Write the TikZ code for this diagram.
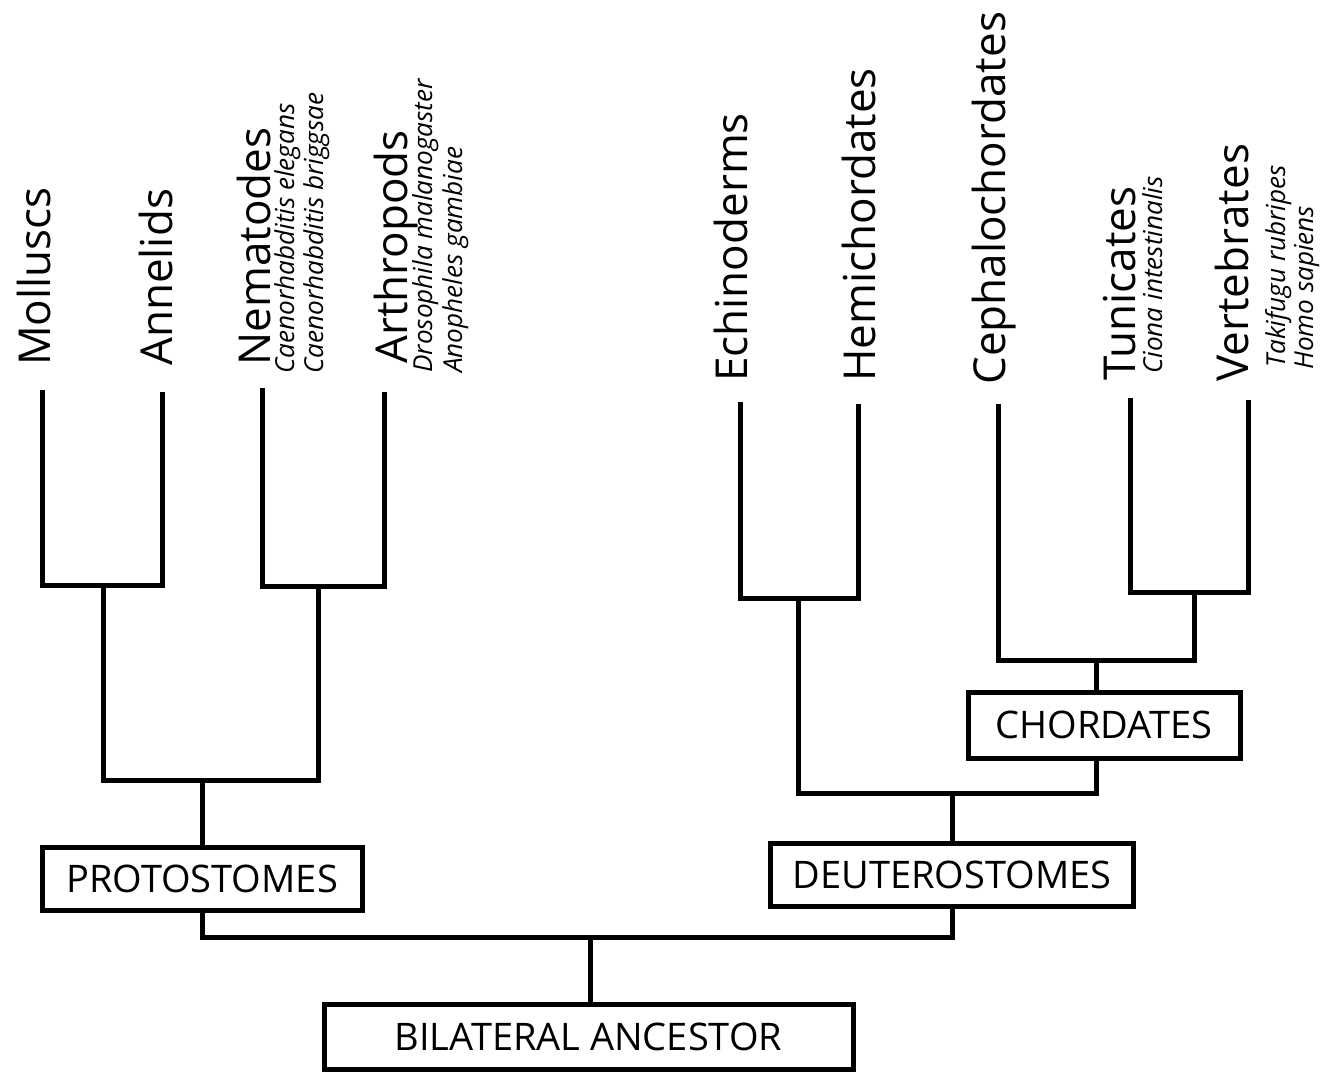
\documentclass[tikz,border=0pt]{standalone}
\usepackage{fontspec}
\setmainfont{Open Sans}
\begin{document}
\begin{tikzpicture}[x=0.75pt,y=-0.75pt,
  branch/.style={line width=3.75pt,line join=miter,line cap=butt},
  taxon/.style={rotate=90,anchor=base west,inner sep=0pt,font=\fontsize{33}{39}\selectfont},
  species/.style={rotate=90,anchor=base west,inner sep=0pt,font=\fontsize{19.6}{23}\selectfont\itshape},
  clade/.style={draw,line width=3.75pt,inner sep=0pt,font=\fontsize{28.5}{33}\selectfont}]
\useasboundingbox (0,0) rectangle (1320,1072);

% leaf labels
\node[taxon] (Lmol) at (50,366) {Molluscs};
\node[taxon] (Lann) at (172,366) {Annelids};
\node[taxon] (Lnem) at (270,366) {Nematodes};
\node[species] (Lce) at (294,374) {Caenorhabditis elegans};
\node[species] (Lcb) at (323,374) {Caenorhabditis briggsae};
\node[taxon] (Lart) at (407,364) {Arthropods};
\node[species] (Ldm) at (432,373) {Drosophila malanogaster};
\node[species] (Lag) at (462,373) {Anopheles gambiae};
\node[taxon] (Lech) at (747,382) {Echinoderms};
\node[taxon] (Lhem) at (875,382) {Hemichordates};
\node[taxon] (Lcep) at (1005,385) {Cephalochordates};
\node[taxon] (Ltun) at (1135,381) {Tunicates};
\node[species] (Lci) at (1162,374) {Ciona intestinalis};
\node[taxon] (Lver) at (1248,382) {Vertebrates};
\node[species] (Ltr) at (1285,368) {Takifugu rubripes};
\node[species] (Lhs) at (1313,370) {Homo sapiens};

% clade boxes
\node[clade,minimum width=320*0.75pt,minimum height=63*0.75pt] (proto) at (202,878.5) {PROTOSTOMES};
\node[clade,minimum width=363*0.75pt,minimum height=63*0.75pt] (deut) at (952,874.5) {DEUTEROSTOMES};
\node[clade,minimum width=272*0.75pt,minimum height=66*0.75pt] (chord) at (1104,725) {CHORDATES};
\node[clade,minimum width=529*0.75pt,minimum height=65*0.75pt] (bil) at (588.5,1036.5) {BILATERAL ANCESTOR};

% branch tips
\coordinate (mol) at (42,390);
\coordinate (ann) at (162,392);
\coordinate (nem) at (262,388);
\coordinate (art) at (384,392);
\coordinate (ech) at (740,402);
\coordinate (hem) at (858,404);
\coordinate (cep) at (998,404);
\coordinate (tun) at (1130,398);
\coordinate (ver) at (1248,400);

% junctions
\coordinate (p1) at (103,585);
\coordinate (p2) at (318,586);
\coordinate (p3) at (202,780);
\coordinate (e1) at (798,598);
\coordinate (c2) at (1194,592);
\coordinate (c1) at (1096,660);
\coordinate (d1) at (952,793);
\coordinate (r) at (590,937);

% protostomes
\draw[branch] (mol) |- (p1) -| (ann);
\draw[branch] (nem) |- (p2) -| (art);
\draw[branch] (p1) |- (p3) -| (p2);
\draw[branch] (p3) -- (proto.north);

% deuterostomes
\draw[branch] (ech) |- (e1) -| (hem);
\draw[branch] (tun) |- (c2) -| (ver);
\draw[branch] (cep) |- (c1) -| (c2);
\draw[branch] (c1) -- (c1 |- chord.north);
\draw[branch] (e1) |- (d1) -| (c1 |- chord.south);
\draw[branch] (d1) -- (deut.north);

% root
\draw[branch] (proto.south) |- (r) -| (deut.south);
\draw[branch] (r) -- (r |- bil.north);
\end{tikzpicture}
\end{document}
